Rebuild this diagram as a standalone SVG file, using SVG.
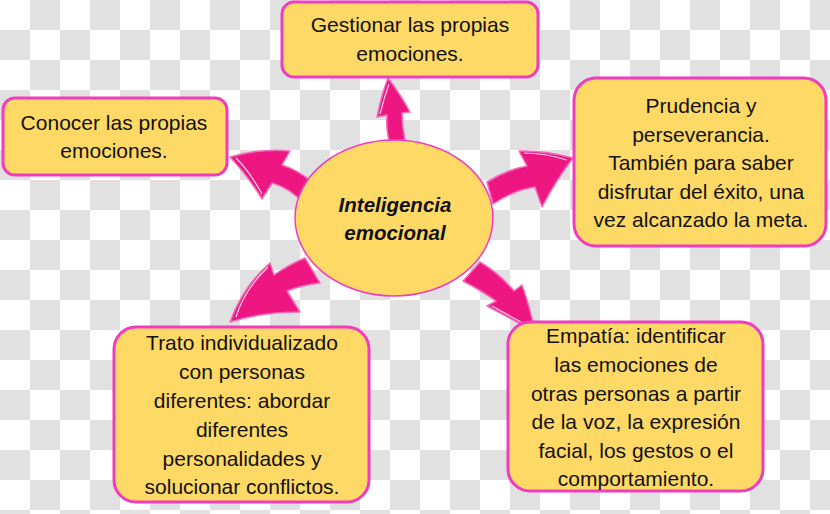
<svg xmlns="http://www.w3.org/2000/svg" width="830" height="514" viewBox="0 0 830 514">
  <defs>
    <pattern id="checker" width="60" height="60" patternUnits="userSpaceOnUse">
      <rect width="60" height="60" fill="#ffffff"/>
      <rect x="30" y="0" width="30" height="30" fill="#e1e1e1"/>
      <rect x="0" y="30" width="30" height="30" fill="#e1e1e1"/>
    </pattern>
    <style>
      .box { fill: #FFD966; stroke: #F03CBE; stroke-width: 3; }
      .oval { fill: #FFD966; stroke: #F03CBE; stroke-width: 1.5; }
      .lbl { font-family: "Liberation Sans", Arial, sans-serif; font-size: 21px; fill: #111111; text-anchor: middle; }
      .center { font-family: "Liberation Sans", Arial, sans-serif; font-size: 20.5px; font-weight: bold; font-style: italic; fill: #111111; text-anchor: middle; }
      .arrow { fill: #EE1782; stroke: #F46DBC; stroke-width: 1.5; stroke-linejoin: round; }
      .hl { fill: none; stroke: #FBD0E8; stroke-width: 1.2; }
    </style>
  </defs>

  <rect width="830" height="514" fill="url(#checker)"/>

  <g id="connectors">
    <path class="arrow" d="M 388,78 Q 399,92 410,112 L 402,113 Q 402,126 405,140 L 389,141 Q 386,128 387,115 L 377,117 Q 381,96 388,78 Z"/>
    <path class="arrow" d="M 230,157 Q 262,148 290,151 L 282,165 Q 298,170 312,182 L 303,203 Q 290,188 272,183 L 262,199 Q 248,176 230,157 Z"/>
    <path class="arrow" d="M 573,158 Q 544,150 519,151 L 527,166 Q 506,170 487,182 L 493,204 Q 514,190 535,187 L 542,207 Q 556,180 573,158 Z"/>
    <path class="arrow" d="M 535,332 Q 530,307 522,285 L 514,291 Q 499,273 480,262 L 463,281 Q 482,291 496,301 L 487,306 Q 510,318 535,332 Z"/>
    <path class="arrow" d="M 230,322 Q 243,286 270,263 L 274,275 Q 290,264 305,258 L 320,283 Q 302,285 287,291 L 300,312 Q 262,312 230,322 Z"/>
    <path class="hl" d="M 389,84 Q 384,98 380,114"/>
    <path class="hl" d="M 236,158 Q 250,172 262,194"/>
    <path class="hl" d="M 567,160 Q 545,153 524,153"/>
    <path class="hl" d="M 530,327 Q 510,316 492,306"/>
    <path class="hl" d="M 236,317 Q 244,290 268,267"/>
  </g>

  <g id="node-center">
    <ellipse class="oval" cx="394" cy="218" rx="99" ry="78"/>
    <text class="center" x="395" y="212">Inteligencia</text>
    <text class="center" x="395" y="240">emocional</text>
  </g>

  <g id="node-gestionar">
    <rect class="box" x="282" y="2" width="256" height="75" rx="12"/>
    <text class="lbl" x="410" y="32">Gestionar las propias</text>
    <text class="lbl" x="410" y="61">emociones.</text>
  </g>

  <g id="node-conocer">
    <rect class="box" x="3" y="98" width="224" height="77" rx="12"/>
    <text class="lbl" x="114" y="130">Conocer las propias</text>
    <text class="lbl" x="114" y="158">emociones.</text>
  </g>

  <g id="node-prudencia">
    <rect class="box" x="574" y="78" width="252" height="168" rx="22"/>
    <text class="lbl" x="701" y="113">Prudencia y</text>
    <text class="lbl" x="701" y="141.5">perseverancia.</text>
    <text class="lbl" x="701" y="170">También para saber</text>
    <text class="lbl" x="701" y="198.5">disfrutar del éxito, una</text>
    <text class="lbl" x="701" y="227">vez alcanzado la meta.</text>
  </g>

  <g id="node-trato">
    <rect class="box" x="114" y="327" width="255" height="175" rx="22"/>
    <text class="lbl" x="242" y="350">Trato individualizado</text>
    <text class="lbl" x="242" y="379">con personas</text>
    <text class="lbl" x="242" y="408">diferentes: abordar</text>
    <text class="lbl" x="242" y="437">diferentes</text>
    <text class="lbl" x="242" y="466">personalidades y</text>
    <text class="lbl" x="242" y="494">solucionar conflictos.</text>
  </g>

  <g id="node-empatia">
    <rect class="box" x="508" y="322" width="255" height="169" rx="22"/>
    <text class="lbl" x="636" y="343">Empatía: identificar</text>
    <text class="lbl" x="636" y="372">las emociones de</text>
    <text class="lbl" x="636" y="401">otras personas a partir</text>
    <text class="lbl" x="636" y="429">de la voz, la expresión</text>
    <text class="lbl" x="636" y="458">facial, los gestos o el</text>
    <text class="lbl" x="636" y="486">comportamiento.</text>
  </g>
</svg>
